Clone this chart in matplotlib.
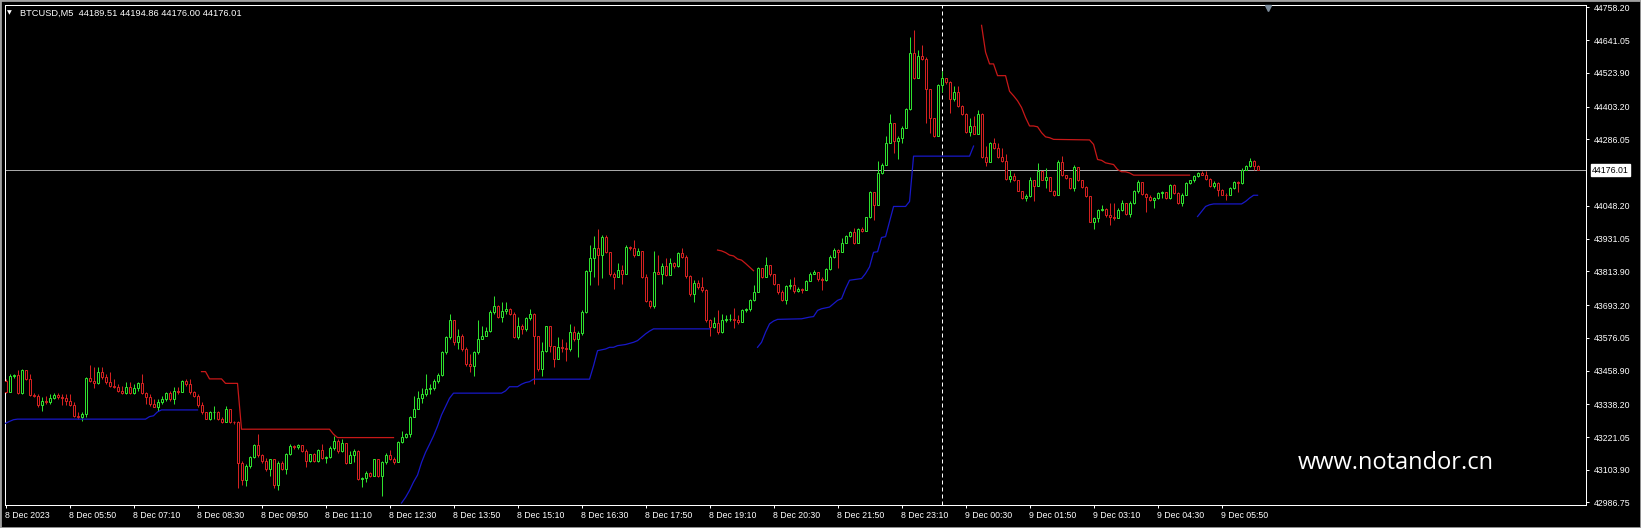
import matplotlib
matplotlib.use("Agg")
import matplotlib.pyplot as plt
import matplotlib.transforms as mtransforms
from matplotlib.patches import Rectangle

# BTCUSD M5 bars, 8 Dec 2023 04:30 onward
first_open = 43423
closes = [
    43383, 43441, 43444, 43377, 43461, 43429, 43371, 43369, 43335, 43351,
    43345, 43359, 43372, 43363, 43359, 43351, 43335, 43297, 43291, 43303,
    43432, 43423, 43414, 43455, 43435, 43417, 43405, 43399, 43387, 43378,
    43399, 43378, 43395, 43414, 43378, 43363, 43339, 43330, 43345, 43357,
    43377, 43357, 43387, 43381, 43423, 43411, 43381, 43369, 43335, 43309,
    43287, 43309, 43311, 43287, 43275, 43323, 43275, 43273, 43129, 43069,
    43119, 43149, 43191, 43155, 43135, 43105, 43141, 43051, 43129, 43105,
    43159, 43189, 43186, 43191, 43171, 43135, 43159, 43135, 43174, 43147,
    43150, 43183, 43207, 43171, 43198, 43129, 43156, 43171, 43072, 43075,
    43093, 43081, 43141, 43081, 43131, 43156, 43141, 43131, 43203, 43222,
    43231, 43291, 43320, 43362, 43374, 43392, 43398, 43422, 43443, 43524,
    43578, 43638, 43560, 43584, 43536, 43482, 43474, 43524, 43572, 43584,
    43599, 43668, 43689, 43650, 43671, 43678, 43662, 43578, 43620, 43608,
    43647, 43662, 43584, 43464, 43530, 43617, 43548, 43500, 43542, 43539,
    43536, 43596, 43570, 43593, 43668, 43815, 43860, 43896, 43872, 43938,
    43884, 43803, 43794, 43818, 43803, 43902, 43896, 43872, 43887, 43794,
    43707, 43690, 43812, 43806, 43834, 43800, 43845, 43833, 43878, 43866,
    43798, 43731, 43773, 43758, 43746, 43638, 43614, 43630, 43596, 43638,
    43642, 43644, 43638, 43632, 43674, 43678, 43710, 43740, 43827, 43794,
    43836, 43803, 43767, 43740, 43710, 43761, 43764, 43743, 43750, 43746,
    43779, 43806, 43810, 43788, 43782, 43821, 43866, 43890, 43884, 43914,
    43941, 43953, 43914, 43965, 43959, 44007, 44098, 44052, 44166, 44196,
    44274, 44346, 44280, 44290, 44326, 44394, 44596, 44506, 44583, 44574,
    44466, 44364, 44298, 44481, 44505, 44490, 44430, 44454, 44406, 44376,
    44313, 44334, 44307, 44376, 44223, 44206, 44274, 44256, 44223, 44208,
    44146, 44154, 44139, 44103, 44076, 44082, 44142, 44118, 44172, 44142,
    44151, 44103, 44086, 44206, 44158, 44148, 44112, 44187, 44139, 44115,
    44082, 43992, 44004, 44034, 44038, 44014, 44007, 44004, 44034, 44058,
    44019, 44058, 44100, 44134, 44091, 44079, 44070, 44076, 44094, 44098,
    44076, 44122, 44094, 44058, 44088, 44130, 44139, 44154, 44166, 44160,
    44146, 44118, 44130, 44106, 44088, 44086, 44112, 44134, 44130, 44178,
    44190, 44208, 44189.51, 44176.01,
]
highs = [
    43429, 43447, 43447, 43462, 43464, 43461, 43447, 43377, 43375, 43363,
    43369, 43375, 43378, 43378, 43375, 43375, 43375, 43345, 43309, 43311,
    43435, 43480, 43471, 43471, 43473, 43447, 43453, 43429, 43411, 43405,
    43417, 43417, 43411, 43419, 43447, 43381, 43375, 43357, 43357, 43369,
    43383, 43387, 43399, 43399, 43426, 43429, 43429, 43387, 43375, 43345,
    43311, 43315, 43333, 43315, 43291, 43333, 43323, 43279, 43279, 43135,
    43123, 43153, 43195, 43233, 43159, 43147, 43143, 43141, 43135, 43135,
    43165, 43195, 43191, 43195, 43189, 43177, 43162, 43165, 43177, 43195,
    43153, 43189, 43225, 43213, 43213, 43201, 43171, 43177, 43174, 43078,
    43099, 43095, 43143, 43141, 43135, 43165, 43174, 43150, 43207, 43243,
    43237, 43297, 43369, 43386, 43398, 43446, 43410, 43428, 43450, 43530,
    43584, 43660, 43632, 43606, 43590, 43542, 43518, 43530, 43638, 43620,
    43614, 43674, 43725, 43692, 43704, 43704, 43683, 43668, 43650, 43626,
    43650, 43678, 43666, 43584, 43560, 43620, 43620, 43524, 43578, 43570,
    43560, 43626, 43620, 43599, 43674, 43818, 43908, 43942, 43966, 43944,
    43944, 43884, 43812, 43842, 43836, 43908, 43905, 43926, 43896, 43887,
    43806, 43713, 43887, 43872, 43842, 43860, 43860, 43848, 43884, 43896,
    43872, 43800, 43782, 43782, 43794, 43750, 43642, 43650, 43674, 43662,
    43656, 43662, 43683, 43656, 43678, 43683, 43716, 43764, 43830, 43827,
    43866, 43834, 43806, 43767, 43746, 43764, 43788, 43794, 43758, 43755,
    43782, 43812, 43818, 43810, 43794, 43824, 43872, 43896, 43893, 43932,
    43944, 43959, 43968, 43968, 43971, 44010, 44103, 44098, 44208, 44202,
    44298, 44376, 44346, 44298, 44334, 44400, 44652, 44679, 44607, 44622,
    44580, 44466, 44364, 44484, 44532, 44506, 44496, 44478, 44478, 44409,
    44379, 44362, 44370, 44391, 44379, 44262, 44278, 44292, 44274, 44256,
    44235, 44175, 44166, 44142, 44103, 44091, 44151, 44142, 44202, 44172,
    44184, 44151, 44106, 44211, 44226, 44160, 44148, 44194, 44170, 44139,
    44118, 44082, 44010, 44038, 44052, 44040, 44058, 44058, 44040, 44070,
    44058, 44064, 44106, 44142, 44134, 44094, 44086, 44079, 44098, 44103,
    44098, 44127, 44127, 44098, 44094, 44134, 44142, 44158, 44170, 44172,
    44172, 44148, 44136, 44134, 44110, 44094, 44115, 44136, 44136, 44184,
    44194, 44220, 44211, 44194.86,
]
lows = [
    43378, 43395, 43432, 43375, 43375, 43426, 43369, 43365, 43327, 43315,
    43339, 43339, 43357, 43357, 43335, 43335, 43333, 43291, 43287, 43279,
    43294, 43417, 43395, 43411, 43429, 43411, 43399, 43395, 43381, 43375,
    43375, 43375, 43375, 43387, 43375, 43339, 43333, 43327, 43315, 43339,
    43351, 43351, 43339, 43375, 43381, 43405, 43375, 43363, 43330, 43303,
    43285, 43282, 43287, 43282, 43270, 43273, 43270, 43267, 43039, 43051,
    43047, 43111, 43147, 43150, 43129, 43099, 43083, 43039, 43033, 43102,
    43090, 43155, 43177, 43179, 43167, 43113, 43131, 43131, 43131, 43143,
    43129, 43147, 43174, 43165, 43167, 43123, 43138, 43131, 43069, 43042,
    43059, 43078, 43083, 43078, 43009, 43126, 43138, 43126, 43131, 43201,
    43219, 43222, 43291, 43338, 43344, 43368, 43374, 43390, 43416, 43438,
    43518, 43572, 43551, 43536, 43530, 43476, 43452, 43440, 43518, 43570,
    43582, 43596, 43662, 43647, 43632, 43662, 43656, 43575, 43572, 43590,
    43602, 43638, 43410, 43458, 43440, 43527, 43524, 43470, 43500, 43524,
    43494, 43530, 43566, 43506, 43587, 43666, 43764, 43794, 43764, 43791,
    43878, 43798, 43752, 43800, 43767, 43803, 43890, 43866, 43872, 43791,
    43704, 43683, 43683, 43803, 43770, 43798, 43800, 43827, 43830, 43863,
    43791, 43725, 43704, 43752, 43740, 43632, 43584, 43611, 43590, 43594,
    43632, 43635, 43611, 43626, 43632, 43668, 43671, 43707, 43740, 43791,
    43794, 43798, 43764, 43734, 43707, 43698, 43752, 43738, 43740, 43738,
    43746, 43779, 43803, 43779, 43746, 43779, 43818, 43860, 43827, 43884,
    43914, 43938, 43910, 43914, 43954, 43959, 44004, 43998, 44052, 44163,
    44194, 44274, 44238, 44214, 44274, 44326, 44391, 44502, 44520, 44571,
    44346, 44310, 44295, 44298, 44454, 44484, 44379, 44424, 44403, 44373,
    44309, 44298, 44304, 44307, 44220, 44190, 44211, 44253, 44220, 44206,
    44142, 44134, 44136, 44100, 44074, 44064, 44079, 44067, 44118, 44139,
    44112, 44100, 44082, 44086, 44154, 44146, 44110, 44103, 44136, 44112,
    44079, 43990, 43966, 43990, 44028, 44010, 43978, 43998, 44007, 44031,
    44016, 44010, 44055, 44094, 44088, 44026, 44067, 44040, 44074, 44076,
    44074, 44074, 44091, 44055, 44046, 44086, 44127, 44134, 44151, 44158,
    44142, 44115, 44112, 44082, 44086, 44070, 44086, 44110, 44098, 44127,
    44175, 44187, 44175, 44176.00,
]

# indicator lines, given as (bar index, price) vertices per segment
blue_segments = [
    ([0, 1, 2, 3, 35, 36, 37, 38, 39, 48],
     [43270, 43277, 43283, 43285, 43285, 43294, 43297, 43311, 43318, 43318]),
    ([99, 100, 101, 102, 103, 104, 105, 106, 107, 108, 109, 110, 111, 112, 124,
      125, 126, 128, 129, 130, 131, 132, 146, 147, 148, 150, 151, 152, 153, 154,
      155, 156, 157, 158, 159, 160, 161, 162, 176],
     [42985, 43005, 43030, 43060, 43085, 43130, 43166, 43195, 43225, 43260, 43300,
      43330, 43360, 43378, 43378, 43386, 43401, 43401, 43410, 43416, 43419, 43428,
      43428, 43476, 43530, 43536, 43542, 43542, 43548, 43550, 43552, 43556, 43560,
      43566, 43578, 43590, 43600, 43608, 43608]),
    ([188, 189, 190, 191, 192, 193, 199, 200, 201, 202, 203, 204, 205, 206, 207,
      208, 209, 210, 211, 214, 215, 216, 217, 218, 219, 220, 221, 222, 225, 226,
      227, 241, 242],
     [43542, 43560, 43596, 43626, 43636, 43642, 43644, 43647, 43650, 43652, 43674,
      43680, 43683, 43686, 43698, 43710, 43716, 43752, 43782, 43788, 43806, 43830,
      43882, 43884, 43935, 43938, 43992, 44046, 44046, 44064, 44226, 44226, 44262]),
    ([298, 299, 300, 301, 302, 309, 310, 311, 312, 313],
     [44010, 44028, 44046, 44052, 44055, 44055, 44064, 44076, 44086, 44086]),
]
red_segments = [
    ([49, 50, 51, 54, 55, 58, 59, 81, 82, 83, 97],
     [43455, 43455, 43429, 43429, 43413, 43413, 43249, 43249, 43231, 43219, 43219]),
    ([178, 179, 180, 181, 182, 183, 184, 185, 186, 187],
     [43890, 43887, 43881, 43872, 43869, 43858, 43854, 43842, 43829, 43816]),
    ([244, 245, 246, 247, 248, 250, 251, 252, 253, 254, 255, 256, 257, 258, 259,
      260, 261, 262, 271, 272, 273, 274, 275, 276, 277, 278, 279, 280, 281, 282, 296],
     [44694, 44598, 44556, 44556, 44514, 44514, 44458, 44442, 44424, 44400, 44364,
      44334, 44334, 44331, 44310, 44295, 44292, 44286, 44284, 44268, 44214, 44211,
      44202, 44199, 44196, 44178, 44170, 44170, 44166, 44158, 44158]),
]

price_ticks = [44758.20, 44641.05, 44523.90, 44403.20, 44286.05, 44048.20, 43931.05,
               43813.90, 43693.20, 43576.05, 43458.90, 43338.20, 43221.05, 43103.90, 42986.75]
time_labels = ['8 Dec 2023', '8 Dec 05:50', '8 Dec 07:10', '8 Dec 08:30', '8 Dec 09:50',
               '8 Dec 11:10', '8 Dec 12:30', '8 Dec 13:50', '8 Dec 15:10', '8 Dec 16:30',
               '8 Dec 17:50', '8 Dec 19:10', '8 Dec 20:30', '8 Dec 21:50', '8 Dec 23:10',
               '9 Dec 00:30', '9 Dec 01:50', '9 Dec 03:10', '9 Dec 04:30', '9 Dec 05:50']
bars_per_label = 16
day_break = 234
last_price = 44176.01
title = 'BTCUSD,M5  44189.51 44194.86 44176.00 44176.01'

W, H = 1641, 528
BULL = '#2EE02E'
BEAR = '#D42121'
px = 72.0 / 100  # one pixel in points

plt.rcParams['font.family'] = ['Liberation Sans', 'DejaVu Sans']

fig = plt.figure(figsize=(W / 100, H / 100), dpi=100, facecolor='black')
ax = fig.add_axes([5 / W, 23 / H, 1581 / W, 500 / H], facecolor='black')

opens = [first_open] + closes[:-1]
xs = list(range(len(closes)))
cols = [BULL if c >= o else BEAR for o, c in zip(opens, closes)]
hi = [max(h, o, c) for h, o, c in zip(highs, opens, closes)]
lo = [min(l, o, c) for l, o, c in zip(lows, opens, closes)]

#wicks first, then hollow bodies on top
ax.vlines(xs, lo, hi, colors=cols, linewidth=px, zorder=2)
ax.bar(xs, [abs(c - o) for o, c in zip(opens, closes)], bottom=[min(o, c) for o, c in zip(opens, closes)],
       width=0.5, facecolor='black', edgecolor=cols, linewidth=px, zorder=3)

for seg_x, seg_y in blue_segments:
    ax.plot(seg_x, seg_y, color='#1818C8', linewidth=0.9, zorder=4)
for seg_x, seg_y in red_segments:
    ax.plot(seg_x, seg_y, color='#C81818', linewidth=0.9, zorder=4)

ax.axhline(last_price, color='#A8A8A8', linewidth=px, zorder=1)
ax.axvline(day_break, color='white', linewidth=px, linestyle=(0, (4, 3)), zorder=1)

ax.set_xlim(-0.125, 395.1)
ax.set_ylim(42977.8, 44766.8)

for s in ax.spines.values():
    s.set_color('white')
    s.set_linewidth(px)

ax.yaxis.tick_right()
ax.set_yticks(price_ticks)
ax.set_yticklabels(['%.2f' % p for p in price_ticks])
ax.set_xticks([k * bars_per_label for k in range(len(time_labels))])
ax.set_xticklabels(time_labels, ha='left')
ax.tick_params(axis='both', colors='white', labelcolor='white', length=3 * px, width=px,
               labelsize=6.3)
ax.tick_params(axis='y', pad=3.5)
ax.tick_params(axis='x', pad=2)
offset = mtransforms.ScaledTranslation(-1 / 100, 0, fig.dpi_scale_trans)
for lab in ax.get_xticklabels():
    lab.set_transform(lab.get_transform() + offset)

# current price box on the price scale
ax.annotate('%.2f' % last_price, xy=(1.0, last_price), xycoords=('axes fraction', 'data'),
            xytext=(6 * px, 0), textcoords='offset points', ha='left', va='center',
            fontsize=6.3, color='black',
            bbox=dict(boxstyle='square,pad=0.15', facecolor='white', edgecolor='white'))

# shift marker at the top
ax.plot([315.5], [0.994], marker='v', markersize=5, color='#7A8A9A',
        transform=ax.get_xaxis_transform(), clip_on=False, zorder=5)

fig.text(7 / W, 1 - 13 / H, '\u25bc', fontsize=4.5, color='white', ha='left', va='center',
         family='DejaVu Sans')
fig.text(20.5 / W, 1 - 13 / H, title, fontsize=6.7, color='white', ha='left', va='center')
fig.text(1298 / W, 1 - 463 / H, 'www.notandor.cn', fontsize=17, color='white', ha='left',
         va='center', family='Open Sans')

fig.patches.append(Rectangle((0, 0), 1, 1, transform=fig.transFigure, fill=False,
                             edgecolor='#A0A0A0', linewidth=2))

fig.savefig('out.png', dpi=100, facecolor='black')
